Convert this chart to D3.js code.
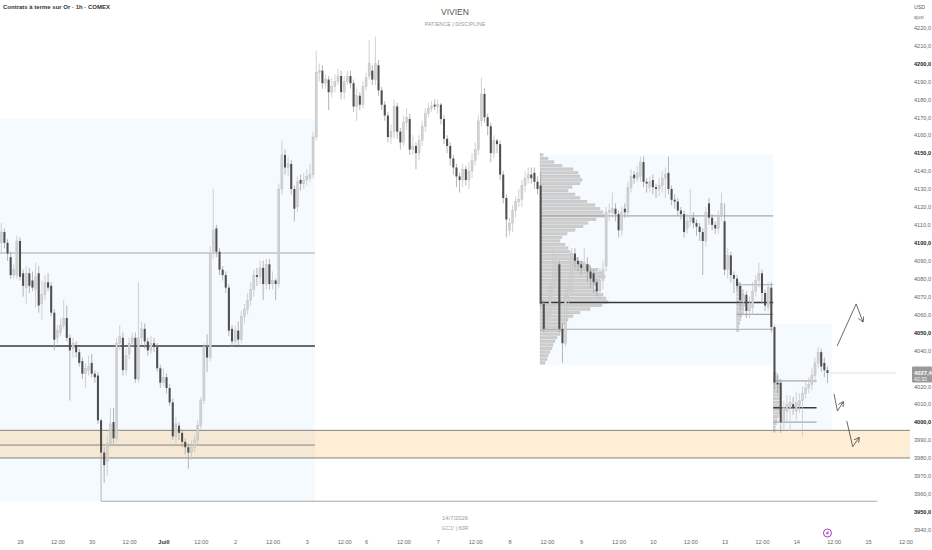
<!DOCTYPE html>
<html>
<head>
<meta charset="utf-8">
<script src="https://cdn.jsdelivr.net/npm/d3@7"></script>
<style>
  body { margin: 0; background: #fff; }
  svg { display: block; font-family: "Liberation Sans", Arial, sans-serif; }
</style>
</head>
<body>
<svg id="chart" width="932" height="550"></svg>
<script>
// bougies 1h, [open, high, low, close], une liste par séance
const jun26 = [
  [4100,4111,4094,4106],[4106,4108,4097,4100],[4100,4102,4090,4094],[4092,4095,4080,4082],
  [4082,4088,4080,4085],[4082,4104,4080,4101]
];
const jun29 = [
  [4101,4103,4079,4081],[4083,4085,4070,4076],[4075,4087,4066,4083],[4083,4086,4072,4076],
  [4079,4084,4073,4075],[4074,4089,4064,4081],[4083,4087,4061,4065],[4066,4079,4057,4071],
  [4071,4082,4068,4078],[4078,4083,4073,4075],[4076,4078,4059,4061],[4061,4063,4040,4046],
  [4047,4054,4044,4051],[4050,4058,4048,4054],[4054,4068,4052,4058],[4058,4065,4045,4047],
  [4047,4049,4012,4040],[4041,4047,4036,4044],[4043,4045,4036,4039],[4039,4041,4031,4033],
  [4034,4036,4024,4027],[4027,4033,4019,4030],[4029,4037,4026,4031]
];
const jun30 = [
  [4033,4038,4025,4027],[4027,4029,4022,4025],[4026,4028,3999,4001],[4001,4002,3956,3983],
  [3983,3986,3966,3976],[3978,3992,3970,3988],[3988,4008,3986,3999],[4000,4008,3988,3991],
  [3991,4047,3989,4044],[4044,4054,4040,4048],[4047,4050,4026,4029],[4029,4041,4026,4037],
  [4038,4047,4035,4044],[4044,4050,4042,4047],[4047,4050,4022,4024],[4024,4078,4022,4047],
  [4047,4056,4043,4052],[4052,4055,4041,4045],[4045,4047,4037,4040],[4040,4048,4038,4044],
  [4044,4047,4039,4042],[4042,4044,4028,4030],[4030,4032,4019,4022]
];
const jul01 = [
  [4022,4030,4020,4025],[4025,4027,4016,4019],[4019,4021,4009,4011],[4011,4013,3990,3992],
  [3992,4003,3988,3999],[3998,4000,3990,3994],[3994,3996,3986,3989],[3989,3991,3982,3986],
  [3986,3988,3974,3983],[3983,3990,3979,3986],[3986,3993,3983,3990],[3990,4001,3987,3998],
  [3998,4014,3996,4012],[4012,4044,4010,4042],[4042,4049,4028,4036],[4036,4098,4034,4094],
  [4094,4130,4091,4107],[4108,4110,4092,4095],[4095,4097,4082,4085],[4085,4087,4079,4082],
  [4082,4084,4072,4075],[4075,4077,4048,4051],[4052,4054,4042,4045]
];
const jul02 = [
  [4045,4054,4043,4051],[4051,4056,4043,4046],[4046,4062,4044,4059],[4059,4066,4055,4063],
  [4063,4072,4060,4068],[4068,4078,4065,4074],[4074,4085,4070,4082],[4082,4086,4076,4081],
  [4081,4090,4077,4086],[4086,4090,4068,4077],[4077,4091,4074,4088],[4088,4091,4074,4077],
  [4077,4084,4074,4079],[4079,4080,4068,4077],[4077,4133,4075,4130],[4130,4157,4127,4149],
  [4149,4152,4138,4142],[4142,4148,4137,4144],[4144,4146,4127,4130],[4130,4132,4112,4119],
  [4120,4137,4117,4134],[4135,4138,4129,4133],[4133,4139,4130,4135]
];
const jul03 = [
  [4135,4141,4132,4137],[4136,4144,4134,4138],[4138,4162,4136,4159],[4159,4207,4157,4195],
  [4195,4200,4190,4196],[4196,4199,4186,4189],[4189,4194,4186,4191],[4191,4193,4174,4184],
  [4184,4192,4181,4187],[4187,4194,4184,4190],[4190,4197,4188,4193],[4193,4196,4180,4184],
  [4184,4193,4180,4190],[4190,4196,4188,4193],[4193,4196,4186,4189],[4189,4191,4173,4176],
  [4176,4186,4168,4182],[4182,4184,4174,4177],[4177,4190,4175,4187]
];
const jul06 = [
  [4187,4195,4185,4192],[4193,4213,4191,4200],[4196,4199,4188,4191],[4191,4215,4188,4200],
  [4199,4202,4182,4185],[4185,4187,4174,4177],[4177,4179,4168,4171],[4171,4173,4156,4159],
  [4159,4166,4155,4162],[4162,4180,4158,4176],[4176,4178,4158,4162],[4162,4164,4152,4156],
  [4156,4171,4154,4167],[4167,4175,4163,4170],[4169,4172,4149,4152],[4152,4160,4149,4154],
  [4154,4156,4141,4150],[4150,4160,4146,4157],[4157,4168,4154,4165],[4165,4175,4162,4172],
  [4172,4178,4170,4175],[4175,4179,4173,4176],[4177,4180,4174,4176]
];
const jul07 = [
  [4176,4180,4172,4177],[4177,4178,4166,4169],[4169,4171,4155,4158],[4158,4160,4150,4154],
  [4154,4156,4143,4147],[4147,4149,4138,4142],[4142,4144,4131,4137],[4137,4139,4128,4135],
  [4135,4144,4131,4141],[4141,4143,4132,4135],[4135,4145,4130,4140],[4140,4150,4136,4146],
  [4146,4156,4143,4152],[4152,4171,4149,4168],[4168,4192,4165,4183],[4183,4186,4167,4170],
  [4170,4172,4160,4165],[4165,4167,4145,4150],[4150,4160,4147,4157],[4157,4158,4150,4155],
  [4155,4157,4135,4138],[4138,4140,4122,4125],[4125,4127,4103,4113]
];
const jul08 = [
  [4107,4114,4104,4111],[4111,4121,4106,4118],[4118,4126,4114,4123],[4123,4130,4120,4124],
  [4124,4135,4120,4132],[4132,4140,4128,4136],[4136,4142,4133,4138],[4138,4142,4133,4136],
  [4139,4142,4130,4134],[4134,4137,4127,4130],[4132,4139,4064,4066],[4066,4068,4050,4052],
  [4052,4064,4049,4060],[4060,4078,4058,4075],[4075,4097,4072,4082],[4082,4094,4078,4088],
  [4088,4090,4050,4052],[4052,4055,4033,4044],[4044,4075,4042,4070],[4070,4080,4066,4074],
  [4074,4097,4071,4094],[4094,4097,4086,4090],[4090,4092,4084,4088]
];
const jul09 = [
  [4088,4090,4082,4086],[4086,4097,4083,4089],[4088,4092,4078,4084],[4084,4087,4075,4080],
  [4083,4085,4072,4078],[4078,4080,4070,4073],[4073,4086,4068,4079],[4079,4090,4074,4085],
  [4087,4120,4084,4117],[4117,4122,4112,4118],[4117,4128,4114,4119],[4119,4122,4112,4116],
  [4116,4118,4103,4107],[4107,4120,4104,4117],[4119,4122,4114,4117],[4117,4134,4114,4131],
  [4131,4141,4128,4137],[4138,4140,4133,4136],[4136,4143,4134,4139],[4137,4148,4134,4145],
  [4145,4148,4131,4134],[4134,4136,4128,4133],[4131,4137,4128,4134]
];
const jul10 = [
  [4135,4138,4127,4131],[4131,4133,4125,4130],[4130,4136,4126,4132],[4132,4140,4128,4136],
  [4136,4142,4125,4138],[4139,4148,4127,4130],[4130,4132,4121,4124],[4124,4127,4119,4123],
  [4123,4125,4115,4118],[4118,4120,4113,4116],[4116,4118,4103,4106],[4108,4116,4105,4112],
  [4112,4130,4109,4115],[4114,4117,4108,4111],[4111,4113,4104,4109],[4109,4111,4101,4106],
  [4106,4108,4082,4101],[4101,4120,4098,4117],[4122,4125,4110,4114],[4114,4116,4107,4110],
  [4110,4112,4105,4108],[4108,4118,4105,4115],[4115,4128,4112,4122]
];
const jul13 = [
  [4112,4122,4082,4085],[4085,4097,4080,4093],[4093,4095,4078,4082],[4082,4084,4072,4080],
  [4080,4082,4073,4076],[4076,4078,4062,4068],[4067,4074,4060,4071],[4071,4073,4058,4062],
  [4062,4070,4058,4066],[4064,4078,4060,4073],[4073,4082,4070,4079],[4079,4089,4075,4083],
  [4083,4085,4066,4072],[4072,4074,4062,4065],[4064,4078,4062,4075],[4075,4078,4050,4053],
  [4053,4054,4018,4022],[4022,4027,4016,4021],[4022,4024,3994,4000],[4000,4012,3996,4008],
  [4006,4015,4000,4010],[4008,4015,3995,4011],[4010,4014,4004,4008]
];
const jul14 = [
  [4006,4017,4001,4011],[4009,4016,4005,4012],[4012,4020,3992,4016],[4016,4023,4013,4019],
  [4019,4025,4016,4021],[4021,4030,4018,4026],[4026,4036,4022,4033],[4033,4042,4030,4039],
  [4039,4041,4028,4031],[4033,4036,4025,4029],[4029,4031,4022,4027.4]
];

const lastPrice = 4027.4;

// axe du temps (index de bougie) et axe des prix
const timeTickIdx = [6,18,29,41,52,64,75,87,98,110,117,129,140,152,163,175,186,198,209,221,232,244,255,267,278,290];
const timeTickLabels = ["29","12:00","30","12:00","Juill","12:00","2","12:00","3","12:00","6","12:00",
  "7","12:00","8","12:00","9","12:00","10","12:00","13","12:00","14","12:00","15","12:00"];
const priceTicks = [3940,3950,3960,3970,3980,3990,4000,4010,4020,4030,4040,4050,4060,4070,4080,
  4090,4100,4110,4120,4130,4140,4150,4160,4170,4180,4190,4200,4210,4220];

// zones [debut, fin, haut, bas] en index de bougie / prix
const blueZones = [[-1, 100.6, 4169, 3956], [172.8, 247.6, 4149, 4032], [247.6, 266.5, 4055, 3995.5]];
const supportZone = [-1, 291.5, 3995.4, 3980];
// niveaux [debut, fin, prix, force]
const levels = [
  [-1, 100.6, 4094.3, 0], [-1, 100.6, 4042.4, 2], [-1, 100.6, 3987.2, 1],
  [-1, 291.5, 3995.4, 1], [-1, 291.5, 3980, 1], [32, 281, 3955.9, 0],
  [172.8, 247.6, 4115, 0], [172.8, 247.6, 4066.7, 2], [172.8, 247.6, 4051.8, 0],
  [235.9, 247.6, 4076.6, 0], [235.9, 247.6, 4060.1, 0],
  [247.6, 261.5, 4023, 0], [247.6, 261.5, 4008, 2], [247.6, 261.5, 4000, 0]
];

// profils de volume [prix, volume]
const profile1 = [
  [4149,3],[4147,8],[4145,14],[4143,22],[4141,33],[4139,38],[4137,40],[4135,42],[4133,40],[4131,32],
  [4129,28],[4127,35],[4125,40],[4123,47],[4121,55],[4119,60],[4117,63],[4115,65],[4113,56],[4111,48],
  [4109,43],[4107,35],[4105,27],[4103,22],[4101,20],[4099,25],[4097,28],[4095,30],[4093,33],[4091,38],
  [4089,43],[4087,50],[4085,58],[4083,62],[4081,65],[4079,60],[4077,56],[4075,53],[4073,58],[4071,63],
  [4069,66],[4067,68],[4065,62],[4063,50],[4061,40],[4059,33],[4057,28],[4055,25],[4053,23],[4051,22],
  [4049,20],[4047,17],[4045,15],[4043,13],[4041,12],[4039,10],[4037,8],[4035,7],[4033,5]
];
const profile2 = [
  [4077,3],[4075,5],[4073,6],[4071,7],[4069,8],[4067,9],[4065,8],[4063,7],[4061,6],[4059,5],
  [4057,4],[4055,3],[4053,2],[4051,2]
];
const profile3 = [
  [4027,3],[4025,5],[4023,6],[4021,7],[4019,7],[4017,6],[4015,6],[4013,7],[4011,8],[4009,8],
  [4007,7],[4005,6],[4003,5],[4001,4],[3999,3],[3997,2],[3995,2]
];
const profiles = [[172.8, profile1], [235.9, profile2], [247.6, profile3]];

// scénarios dessinés à la main [index, prix]
const arrows = [
  [[268.1, 4042.4], [274.2, 4065.9], [276.4, 4055.8]],
  [[267.1, 4015.7], [268.2, 4006.2], [270.1, 4011.4]],
  [[271.2, 4000.6], [273.1, 3986.3], [275.2, 3991.5]]
];

const candles = [jun26, jun29, jun30, jul01, jul02, jul03, jul06, jul07, jul08, jul09, jul10, jul13, jul14]
  .flat()
  .map((d, i) => ({ i, o: d[0], h: d[1], l: d[2], c: d[3] }));

const svg = d3.select("#chart");
const x = d3.scaleLinear().domain([0, 290]).range([1.3, 905.4]);
const y = d3.scaleLinear().domain([3940, 4220]).range([529.7, 27.6]);
const vol = d3.scaleLinear().domain([0, 68]).range([0, 68]);

svg.append("defs").append("clipPath").attr("id", "plot")
  .append("rect").attr("x", 0).attr("y", 0).attr("width", 910).attr("height", 536);

svg.append("defs").append("marker")
  .attr("id", "head").attr("viewBox", "0 0 8 8").attr("refX", 7).attr("refY", 4)
  .attr("markerWidth", 6).attr("markerHeight", 6).attr("markerUnits", "userSpaceOnUse")
  .attr("orient", "auto")
  .append("path").attr("d", "M0,0L7,4L0,8").attr("fill", "none")
  .attr("stroke", "#444").attr("stroke-width", 1);

const plot = svg.append("g").attr("clip-path", "url(#plot)");

// zones
plot.selectAll(".zone").data(blueZones).join("rect")
  .attr("x", d => x(d[0])).attr("width", d => x(d[1]) - x(d[0]))
  .attr("y", d => y(d[2])).attr("height", d => y(d[3]) - y(d[2]))
  .attr("fill", "rgba(33,150,243,0.05)");

plot.append("rect")
  .attr("x", x(supportZone[0])).attr("width", x(supportZone[1]) - x(supportZone[0]))
  .attr("y", y(supportZone[2])).attr("height", y(supportZone[3]) - y(supportZone[2]))
  .attr("fill", "rgba(255,152,0,0.16)");

// profils de volume
profiles.forEach(([start, rows]) => {
  const rowH = y(0) - y(2);
  plot.append("g").selectAll("rect").data(rows).join("rect")
    .attr("x", x(start)).attr("width", d => vol(d[1]))
    .attr("y", d => y(d[0] + 1) + 0.4).attr("height", rowH - 1)
    .attr("fill", "#cdcdcd").attr("stroke", "#b3b3b3").attr("stroke-width", 0.3);
});

// niveaux
const lvlColor = ["#a8a8a8", "#777", "#3a3a3a"];
const lvlWidth = [1.1, 0.9, 1.4];
plot.selectAll(".lvl").data(levels).join("line")
  .attr("x1", d => x(d[0])).attr("x2", d => x(d[1]))
  .attr("y1", d => y(d[2])).attr("y2", d => y(d[2]))
  .attr("stroke", d => lvlColor[d[3]]).attr("stroke-width", d => lvlWidth[d[3]]);

// ligne du dernier prix
plot.append("line")
  .attr("x1", x(266)).attr("x2", x(287))
  .attr("y1", y(lastPrice)).attr("y2", y(lastPrice))
  .attr("stroke", "#d8d8d8").attr("stroke-width", 0.8);

// bougies
const bw = (x(1) - x(0)) * 0.66;
const up = d => d.c >= d.o;
plot.append("g").selectAll("line").data(candles).join("line")
  .attr("x1", d => x(d.i)).attr("x2", d => x(d.i))
  .attr("y1", d => y(d.h)).attr("y2", d => y(d.l))
  .attr("stroke", d => up(d) ? "#c6c6c6" : "#a3a3a3").attr("stroke-width", 0.8);
plot.append("g").selectAll("rect").data(candles).join("rect")
  .attr("x", d => x(d.i) - bw / 2).attr("width", bw)
  .attr("y", d => y(Math.max(d.o, d.c)))
  .attr("height", d => Math.max(0.8, Math.abs(y(d.o) - y(d.c))))
  .attr("fill", d => up(d) ? "#d2d2d2" : "#4f4f4f")
  .attr("stroke", d => up(d) ? "#bcbcbc" : "none").attr("stroke-width", 0.4);

// flèches de scénario
const arrowLine = d3.line().x(d => x(d[0])).y(d => y(d[1]));
plot.selectAll(".arrow").data(arrows).join("path")
  .attr("d", arrowLine).attr("fill", "none")
  .attr("stroke", "#444").attr("stroke-width", 0.8)
  .attr("marker-end", "url(#head)");

// axe des prix
const fmt = v => d3.format(".1f")(v).replace(".", ",");
svg.append("g").attr("transform", "translate(914,0)")
  .call(d3.axisRight(y).tickValues(priceTicks).tickSize(0).tickPadding(0).tickFormat(fmt))
  .call(g => g.select(".domain").remove())
  .attr("font-family", "Liberation Sans, Arial, sans-serif").attr("font-size", 5.6)
  .selectAll("text")
  .attr("fill", d => d % 50 === 0 ? "#222" : "#666")
  .attr("font-weight", d => d % 50 === 0 ? "bold" : "normal");

// axe du temps
svg.append("g").attr("transform", "translate(0,537)")
  .call(d3.axisBottom(x).tickValues(timeTickIdx).tickSize(0).tickPadding(3)
    .tickFormat((d, i) => timeTickLabels[i]))
  .call(g => g.select(".domain").remove())
  .attr("font-family", "Liberation Sans, Arial, sans-serif").attr("font-size", 5.6)
  .selectAll("text")
  .attr("fill", (d, i) => timeTickLabels[i] === "Juill" ? "#333" : "#666")
  .attr("font-weight", (d, i) => timeTickLabels[i] === "Juill" ? "bold" : "normal");

// étiquette du dernier prix
const tagY = y(lastPrice);
svg.append("rect").attr("x", 912).attr("y", tagY - 6.5).attr("width", 20).attr("height", 16)
  .attr("fill", "#9a9a9a").attr("rx", 1);
svg.append("text").attr("x", 914).attr("y", tagY + 2).attr("font-size", 5.8)
  .attr("font-weight", "bold").attr("fill", "#fff").text(fmt(lastPrice));
svg.append("text").attr("x", 914).attr("y", tagY + 8.3).attr("font-size", 5.2)
  .attr("fill", "#f4f4f4").text("42:33");

// textes
svg.append("text").attr("x", 3).attr("y", 9).attr("font-size", 6).attr("font-weight", "bold")
  .attr("fill", "#333").text("Contrats à terme sur Or · 1h · COMEX");
svg.append("text").attr("x", 914).attr("y", 9).attr("font-size", 5.2).attr("fill", "#555").text("USD");
svg.append("text").attr("x", 914).attr("y", 19).attr("font-size", 4.6).attr("fill", "#777").text("ajust");
svg.append("text").attr("x", 455).attr("y", 15).attr("text-anchor", "middle").attr("font-size", 8.5)
  .attr("fill", "#555").text("VIVIEN");
svg.append("text").attr("x", 455).attr("y", 26).attr("text-anchor", "middle").attr("font-size", 5.4)
  .attr("fill", "#9a9a9a").text("PATIENCE  |  DISCIPLINE");
svg.append("text").attr("x", 455).attr("y", 519.5).attr("text-anchor", "middle").attr("font-size", 5.8)
  .attr("fill", "#9a9a9a").text("14/7/2026");
svg.append("text").attr("x", 455).attr("y", 530).attr("text-anchor", "middle").attr("font-size", 5.4)
  .attr("fill", "#9a9a9a").text("GC1!  |  60R");

// icône d'événement
const ev = svg.append("g").attr("transform", `translate(${x(265)},533)`);
ev.append("circle").attr("r", 4).attr("fill", "#fff").attr("stroke", "#9c27b0").attr("stroke-width", 0.9);
ev.append("text").attr("y", 1.8).attr("text-anchor", "middle").attr("font-size", 5)
  .attr("fill", "#9c27b0").text("#");
</script>
</body>
</html>
